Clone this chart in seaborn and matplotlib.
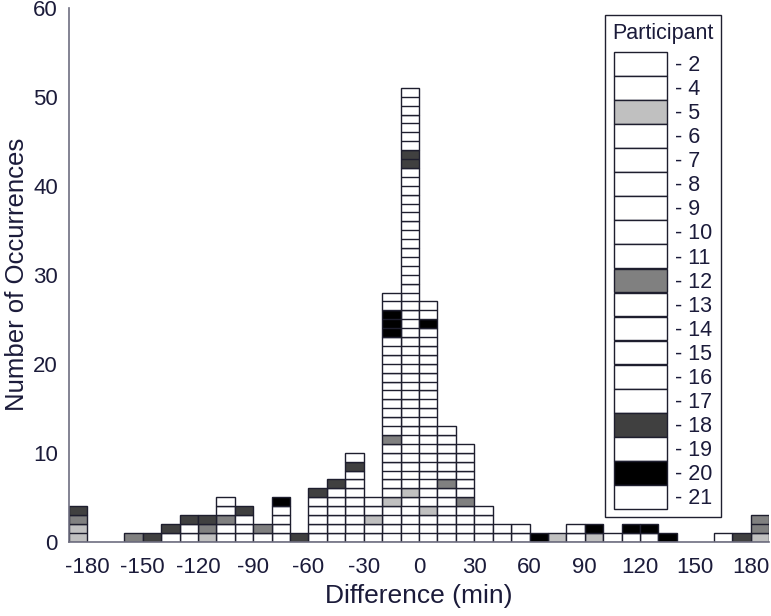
import numpy as np
import pandas as pd
import seaborn as sns
import matplotlib
matplotlib.use("Agg")
import matplotlib.pyplot as plt
from matplotlib.patches import Patch

# difference values (bin centres, min) of every occurrence, per participant
p2 = [-95, -75, -45, -35, -25, -15, -15, -5, -5, -5, 5, 5, 15, 25, 55]
p4 = [-105, -55, -35, -25, -15, -15, -5, -5, 5, 15, 35]
p5 = [-185, -185, -115, -25, -15, -5, 5, 75, 95, 185]
p6 = [-125, -45, -15, -5, -5, -5, 5, 5, 15, 45]
p7 = [-85, -55, -35, -15, -5, -5, -5, -5, 5, 5, 25, 125]
p8 = [-95, -35, -15, -15, -5, -5, -5, 5, 5, 15, 35]
p9 = [-135, -75, -45, -25, -5, -5, -5, 5, 5, 15, 25, 85]
p10 = [-105, -55, -35, -15, -5, -5, -5, -5, 5, 25]
p11 = [-45, -15, -5, -5, -5, 5, 5, 15, 105]
p12 = [-185, -155, -115, -105, -85, -15, 15, 25, 185, 185]
p13 = [-75, -45, -35, -15, -15, -5, -5, -5, 5, 5, 15, 25, 55]
p14 = [-125, -55, -25, -15, -15, -5, -5, -5, -5, 5, 5, 15, 25, 35]
p15 = [-105, -45, -15, -15, -5, -5, -5, 5, 15, 45]
p16 = [-95, -55, -35, -15, -5, -5, -5, 5, 15, 25, 115]
p17 = [-75, -35, -15, -15, -5, -5, -5, 5, 25, 85]
p18 = [-185, -145, -135, -125, -115, -95, -65, -55, -45, -35, -5, -5, 175]
p19 = [-35, -15, -15, -5, -5, -5, -5, 5, 5, 15, 25, 35]
p20 = [-75, -15, -15, -15, 5, 65, 95, 115, 125, 135]
p21 = [-105, -15, -15, -5, -5, -5, 5, 5, 15, 25, 165]

participants = ['2', '4', '5', '6', '7', '8', '9', '10', '11', '12',
                '13', '14', '15', '16', '17', '18', '19', '20', '21']
values = [p2, p4, p5, p6, p7, p8, p9, p10, p11, p12,
          p13, p14, p15, p16, p17, p18, p19, p20, p21]
shades = {'5': '#c0c0c0', '12': '#808080', '18': '#404040', '20': '#000000'}

bin_edges = np.arange(-190, 191, 10)
x_ticks = np.arange(-180, 181, 30)
y_ticks = np.arange(0, 61, 10)

rows = []
for p, vals in zip(participants, values):
    for v in vals:
        rows.append({'Difference': v, 'Participant': p})
df = pd.DataFrame(rows)

palette = {p: shades.get(p, '#ffffff') for p in participants}

text_col = '#1b1b3a'
axis_col = '#6e6e80'
edge_col = '#1e1e2e'

sns.set_style('white')
plt.rcParams['font.family'] = ['Liberation Sans', 'DejaVu Sans']
plt.rcParams['axes.unicode_minus'] = False

fig = plt.figure(figsize=(7.71, 6.16), dpi=100)
ax = fig.add_axes([69 / 771, (616 - 541.7) / 616, 700 / 771, 534 / 616])

sns.histplot(data=df, x='Difference', hue='Participant',
             hue_order=participants[::-1], multiple='stack',
             bins=bin_edges, palette=palette, edgecolor=edge_col,
             linewidth=1.0, alpha=1, legend=False, ax=ax)

# drop empty segments and split every segment into single occurrences
for patch in list(ax.patches):
    h = patch.get_height()
    if h <= 0:
        patch.remove()
        continue
    x0 = patch.get_x()
    x1 = x0 + patch.get_width()
    y0 = patch.get_y()
    for k in range(1, int(round(h))):
        ax.plot([x0, x1], [y0 + k, y0 + k], color=edge_col, lw=1.0,
                solid_capstyle='butt', zorder=patch.get_zorder() + 0.1)

ax.set_xlim(-190, 190)
ax.set_ylim(0, 60)
ax.set_xticks(x_ticks)
ax.set_yticks(y_ticks)
ax.tick_params(direction='in', length=7, width=1, color=axis_col,
               labelsize=16, labelcolor=text_col)
ax.tick_params(axis='x', pad=11)
ax.tick_params(axis='y', pad=8)
for side in ['top', 'right']:
    ax.spines[side].set_visible(False)
for side in ['left', 'bottom']:
    ax.spines[side].set_color(axis_col)
    ax.spines[side].set_linewidth(1.2)

ax.set_xlabel('Difference (min)', fontsize=19, color=text_col, labelpad=4)
ax.set_ylabel('Number of Occurrences', fontsize=18.5, color=text_col, labelpad=3)

handles = [Patch(facecolor=palette[p], edgecolor=edge_col, linewidth=1.0)
           for p in participants]
labels = ['- ' + p for p in participants]
leg = ax.legend(handles, labels, title='Participant', loc='upper left',
                bbox_to_anchor=(605 / 771, 1 - 15 / 616),
                bbox_transform=fig.transFigure, borderaxespad=0,
                frameon=True, fancybox=False, framealpha=1,
                edgecolor='#202030', fontsize=15.5, title_fontsize=15.5,
                handlelength=2.45, handleheight=1.32, labelspacing=0,
                handletextpad=0.4, borderpad=0.35, labelcolor=text_col)
leg.get_title().set_color(text_col)
leg.get_frame().set_linewidth(1.0)
leg._legend_box.sep = 6

fig.savefig('out.png', dpi=100)
